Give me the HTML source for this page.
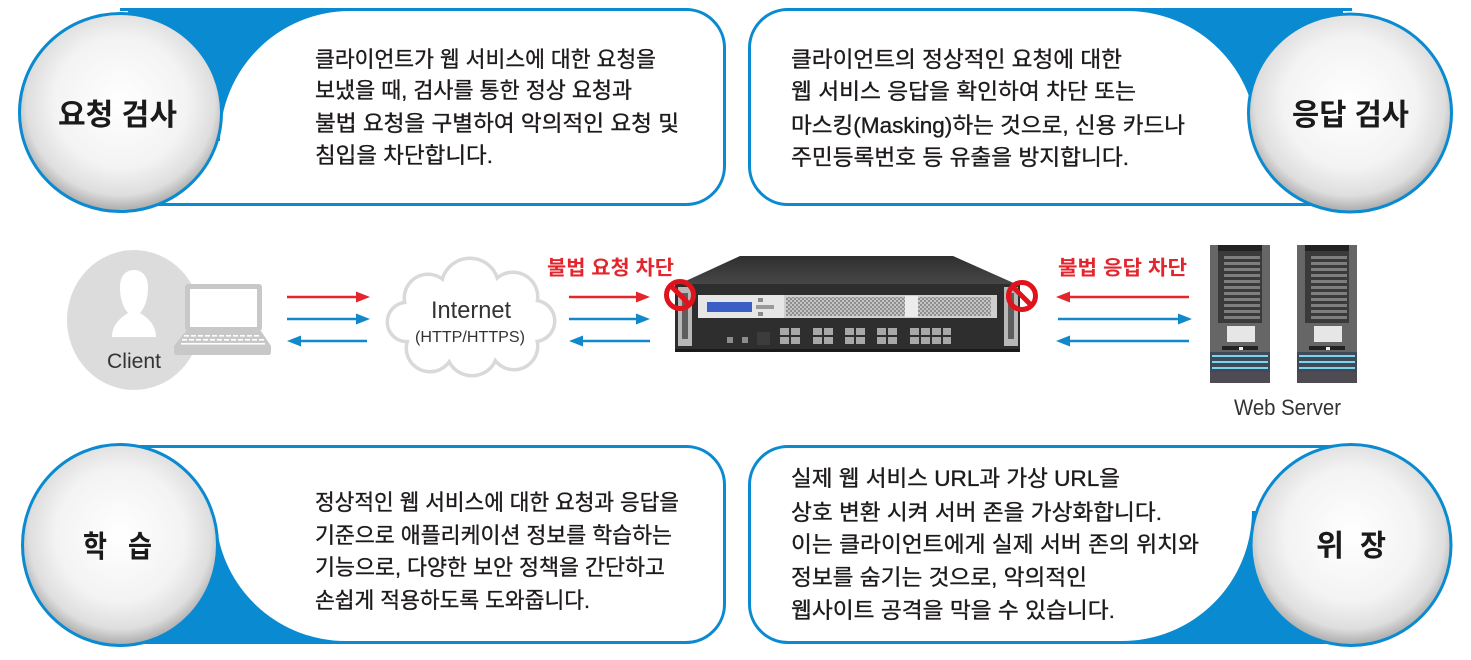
<!DOCTYPE html>
<html><head><meta charset="utf-8">
<style>
html,body{margin:0;padding:0;background:#fff;}
svg{display:block;}
.t{font-family:"Liberation Sans","Noto Sans CJK KR",sans-serif;font-size:22px;fill:#1e1b1c;stroke:#1e1b1c;stroke-width:0.35px;}
.lb{font-family:"Liberation Sans","Noto Sans CJK KR",sans-serif;font-size:30px;font-weight:bold;fill:#1a1a1a;}
.en{font-family:"Liberation Sans",sans-serif;fill:#333;}
.rd{font-family:"Liberation Sans","Noto Sans CJK KR",sans-serif;font-size:20px;font-weight:bold;fill:#e3262e;}
</style></head><body>
<svg width="1471" height="660" viewBox="0 0 1471 660" xmlns="http://www.w3.org/2000/svg">
<defs>
<radialGradient id="eg" cx="50%" cy="45%" r="55%">
 <stop offset="0" stop-color="#ffffff"/>
 <stop offset="0.6" stop-color="#f3f3f3"/>
 <stop offset="0.85" stop-color="#dedede"/>
 <stop offset="1" stop-color="#a9a9a9"/>
</radialGradient>
<linearGradient id="topg" x1="0" y1="0" x2="0" y2="1">
 <stop offset="0" stop-color="#2f2f2f"/>
 <stop offset="1" stop-color="#474747"/>
</linearGradient>
<pattern id="mesh" width="4" height="4" patternUnits="userSpaceOnUse">
 <rect width="4" height="4" fill="#c4c4c4"/>
 <rect width="2" height="2" fill="#8f8f8f"/>
 <rect x="2" y="2" width="2" height="2" fill="#8f8f8f"/>
</pattern>
</defs>

<!-- Top-left card -->
<path d="M120 9.5 H686 A38.5 38.5 0 0 1 724.5 48 V166 A38.5 38.5 0 0 1 686 204.5 H120" fill="#fff" stroke="#0a8ad0" stroke-width="3"/>
<path d="M128 8 H350 V11 A130 130 0 0 0 220 141 H128 Z" fill="#0a8ad0"/>
<ellipse cx="120.5" cy="112.5" rx="101" ry="99" fill="url(#eg)" stroke="#0a8ad0" stroke-width="3"/>
<text class="lb" x="58" y="125" textLength="119" lengthAdjust="spacingAndGlyphs">요청 검사</text>
<text class="t" x="315" y="67" textLength="341" lengthAdjust="spacingAndGlyphs">클라이언트가 웹 서비스에 대한 요청을</text>
<text class="t" x="315" y="98" textLength="317" lengthAdjust="spacingAndGlyphs">보냈을 때, 검사를 통한 정상 요청과</text>
<text class="t" x="315" y="131" textLength="364" lengthAdjust="spacingAndGlyphs">불법 요청을 구별하여 악의적인 요청 및</text>
<text class="t" x="315" y="163" textLength="178" lengthAdjust="spacingAndGlyphs">침입을 차단합니다.</text>

<!-- Top-right card -->
<path d="M1352 9.5 H788 A38.5 38.5 0 0 0 749.5 48 V166 A38.5 38.5 0 0 0 788 204.5 H1352" fill="#fff" stroke="#0a8ad0" stroke-width="3"/>
<path d="M1127 8 V11 A130 130 0 0 1 1257 141 H1343 V8 Z" fill="#0a8ad0"/>
<ellipse cx="1350" cy="113" rx="101.5" ry="99" fill="url(#eg)" stroke="#0a8ad0" stroke-width="3"/>
<text class="lb" x="1292" y="125" textLength="117" lengthAdjust="spacingAndGlyphs">응답 검사</text>
<text class="t" x="791" y="67" textLength="331" lengthAdjust="spacingAndGlyphs">클라이언트의 정상적인 요청에 대한</text>
<text class="t" x="791" y="99" textLength="345" lengthAdjust="spacingAndGlyphs">웹 서비스 응답을 확인하여 차단 또는</text>
<text class="t" x="791" y="133" textLength="394" lengthAdjust="spacingAndGlyphs">마스킹(Masking)하는 것으로, 신용 카드나</text>
<text class="t" x="791" y="165" textLength="338" lengthAdjust="spacingAndGlyphs">주민등록번호 등 유출을 방지합니다.</text>

<!-- Bottom-left card -->
<path d="M120 446.5 H686 A38.5 38.5 0 0 1 724.5 485 V604 A38.5 38.5 0 0 1 686 642.5 H120" fill="#fff" stroke="#0a8ad0" stroke-width="3"/>
<path d="M217 530 A130 130 0 0 0 345 641 V644 H120 V530 Z" fill="#0a8ad0"/>
<ellipse cx="120" cy="545" rx="97.5" ry="100.5" fill="url(#eg)" stroke="#0a8ad0" stroke-width="3"/>
<text class="lb" x="83" y="557" textLength="24" lengthAdjust="spacingAndGlyphs">학</text>
<text class="lb" x="128" y="557" textLength="24" lengthAdjust="spacingAndGlyphs">습</text>
<text class="t" x="315" y="510" textLength="364" lengthAdjust="spacingAndGlyphs">정상적인 웹 서비스에 대한 요청과 응답을</text>
<text class="t" x="315" y="543" textLength="357" lengthAdjust="spacingAndGlyphs">기준으로 애플리케이션 정보를 학습하는</text>
<text class="t" x="315" y="575" textLength="350" lengthAdjust="spacingAndGlyphs">기능으로, 다양한 보안 정책을 간단하고</text>
<text class="t" x="315" y="608" textLength="275" lengthAdjust="spacingAndGlyphs">손쉽게 적용하도록 도와줍니다.</text>

<!-- Bottom-right card -->
<path d="M1352 446.5 H788 A38.5 38.5 0 0 0 749.5 485 V604 A38.5 38.5 0 0 0 788 642.5 H1352" fill="#fff" stroke="#0a8ad0" stroke-width="3"/>
<path d="M1252 511 A130 130 0 0 1 1122 641 V644 H1352 V511 Z" fill="#0a8ad0"/>
<ellipse cx="1351" cy="545" rx="100" ry="100.5" fill="url(#eg)" stroke="#0a8ad0" stroke-width="3"/>
<text class="lb" x="1316" y="556" textLength="28" lengthAdjust="spacingAndGlyphs">위</text>
<text class="lb" x="1360" y="556" textLength="26" lengthAdjust="spacingAndGlyphs">장</text>
<text class="t" x="791" y="486" textLength="329" lengthAdjust="spacingAndGlyphs">실제 웹 서비스 URL과 가상 URL을</text>
<text class="t" x="791" y="520" textLength="371" lengthAdjust="spacingAndGlyphs">상호 변환 시켜 서버 존을 가상화합니다.</text>
<text class="t" x="791" y="552" textLength="408" lengthAdjust="spacingAndGlyphs">이는 클라이언트에게 실제 서버 존의 위치와</text>
<text class="t" x="791" y="585" textLength="296" lengthAdjust="spacingAndGlyphs">정보를 숨기는 것으로, 악의적인</text>
<text class="t" x="791" y="618" textLength="324" lengthAdjust="spacingAndGlyphs">웹사이트 공격을 막을 수 있습니다.</text>

<!-- Client -->
<ellipse cx="134" cy="320" rx="67" ry="70" fill="#dcdcdc"/>
<path d="M112 337 C112 325 120 318 128 313 C122 306 120 297 120 287 C120 276 126 270 134 270 C142 270 148 276 148 287 C148 297 146 306 140 313 C148 318 156 325 156 337 Z" fill="#fff"/>
<text class="en" x="107" y="368" font-size="21" textLength="54" lengthAdjust="spacingAndGlyphs">Client</text>
<!-- Laptop -->
<rect x="185" y="284" width="77" height="47" rx="3" fill="#c8c8c8"/>
<rect x="190" y="289" width="67" height="38" fill="#fff"/>
<path d="M186 331 H261 L271 346 V352 Q271 355 268 355 H177 Q174 355 174 352 V346 Z" fill="#c8c8c8"/>
<g fill="#fff">
 <rect x="184" y="335" width="5" height="1.6"/><rect x="191" y="335" width="5" height="1.6"/><rect x="198" y="335" width="5" height="1.6"/><rect x="205" y="335" width="5" height="1.6"/><rect x="212" y="335" width="5" height="1.6"/><rect x="219" y="335" width="5" height="1.6"/><rect x="226" y="335" width="5" height="1.6"/><rect x="233" y="335" width="5" height="1.6"/><rect x="240" y="335" width="5" height="1.6"/><rect x="247" y="335" width="5" height="1.6"/><rect x="254" y="335" width="5" height="1.6"/>
 <rect x="182" y="339" width="5" height="1.6"/><rect x="189" y="339" width="5" height="1.6"/><rect x="196" y="339" width="5" height="1.6"/><rect x="203" y="339" width="5" height="1.6"/><rect x="210" y="339" width="5" height="1.6"/><rect x="217" y="339" width="5" height="1.6"/><rect x="224" y="339" width="5" height="1.6"/><rect x="231" y="339" width="5" height="1.6"/><rect x="238" y="339" width="5" height="1.6"/><rect x="245" y="339" width="5" height="1.6"/><rect x="252" y="339" width="5" height="1.6"/><rect x="259" y="339" width="5" height="1.6"/>
 <rect x="181" y="343" width="84" height="1.6"/>
</g>

<!-- Arrows -->
<g stroke-width="2.5">
 <line x1="287" y1="297" x2="358" y2="297" stroke="#e3262e"/>
 <line x1="287" y1="319" x2="358" y2="319" stroke="#1188cc"/>
 <line x1="299" y1="341" x2="367" y2="341" stroke="#1188cc"/>
 <line x1="569" y1="297" x2="638" y2="297" stroke="#e3262e"/>
 <line x1="569" y1="319" x2="638" y2="319" stroke="#1188cc"/>
 <line x1="581" y1="341" x2="650" y2="341" stroke="#1188cc"/>
 <line x1="1068" y1="297" x2="1189" y2="297" stroke="#e3262e"/>
 <line x1="1058" y1="319" x2="1180" y2="319" stroke="#1188cc"/>
 <line x1="1068" y1="341" x2="1189" y2="341" stroke="#1188cc"/>
</g>
<polygon points="370,297 356,291.5 356,302.5" fill="#e3262e"/>
<polygon points="370,319 356,313.5 356,324.5" fill="#1188cc"/>
<polygon points="287,341 301,335.5 301,346.5" fill="#1188cc"/>
<polygon points="650,297 636,291.5 636,302.5" fill="#e3262e"/>
<polygon points="650,319 636,313.5 636,324.5" fill="#1188cc"/>
<polygon points="569,341 583,335.5 583,346.5" fill="#1188cc"/>
<polygon points="1056,297 1070,291.5 1070,302.5" fill="#e3262e"/>
<polygon points="1192,319 1178,313.5 1178,324.5" fill="#1188cc"/>
<polygon points="1056,341 1070,335.5 1070,346.5" fill="#1188cc"/>

<!-- Cloud -->
<g fill="#d9d9d9">
 <circle cx="470" cy="287" r="30.5"/><circle cx="428" cy="298" r="25.5"/><circle cx="513" cy="297" r="26.5"/>
 <circle cx="407" cy="322" r="21.5"/><circle cx="534" cy="321" r="22.5"/><circle cx="430" cy="348" r="25.5"/>
 <circle cx="472" cy="350" r="27.5"/><circle cx="514" cy="346" r="25.5"/>
</g>
<g fill="#fff">
 <circle cx="470" cy="287" r="27"/><circle cx="428" cy="298" r="22"/><circle cx="513" cy="297" r="23"/>
 <circle cx="407" cy="322" r="18"/><circle cx="534" cy="321" r="19"/><circle cx="430" cy="348" r="22"/>
 <circle cx="472" cy="350" r="24"/><circle cx="514" cy="346" r="22"/>
 <ellipse cx="471" cy="320" rx="58" ry="36"/>
</g>
<text class="en" x="431" y="318" font-size="24" textLength="80" lengthAdjust="spacingAndGlyphs">Internet</text>
<text class="en" x="415" y="342" font-size="16" textLength="110" lengthAdjust="spacingAndGlyphs">(HTTP/HTTPS)</text>

<!-- Red labels -->
<text class="rd" x="547" y="274.5" textLength="127" lengthAdjust="spacingAndGlyphs">불법 요청 차단</text>
<text class="rd" x="1058" y="274.5" textLength="129" lengthAdjust="spacingAndGlyphs">불법 응답 차단</text>

<!-- Appliance -->
<polygon points="740,256 953,256 1018,285 677,285" fill="url(#topg)"/>
<rect x="675" y="284" width="345" height="68" fill="#2e2e2e"/>
<rect x="675" y="349" width="345" height="3" fill="#1a1a1a"/>
<rect x="698" y="295" width="299" height="23" fill="#cfcfcf"/>
<rect x="698" y="295" width="86" height="23" fill="#e6e6e6"/>
<rect x="707" y="302" width="45" height="10" fill="#3a5ec6"/>
<rect x="758" y="298" width="5" height="4" fill="#8a8a8a"/>
<rect x="756" y="305" width="18" height="4" fill="#9a9a9a"/>
<rect x="758" y="312" width="5" height="4" fill="#8a8a8a"/>
<rect x="786" y="297" width="205" height="19" fill="url(#mesh)"/>
<rect x="905" y="296" width="13" height="21" fill="#ececec"/>
<rect x="678" y="287" width="14" height="59" fill="#b8b8b8"/>
<rect x="682" y="293" width="6" height="46" fill="#5e5e5e"/>
<rect x="1004" y="287" width="14" height="59" fill="#b8b8b8"/>
<rect x="1008" y="293" width="6" height="46" fill="#5e5e5e"/>
<rect x="727" y="337" width="6" height="6" fill="#8c8c8c"/>
<rect x="742" y="337" width="6" height="6" fill="#8c8c8c"/>
<rect x="757" y="332" width="13" height="13" fill="#3c3c3c"/>
<g fill="#a8a8a8">
 <rect x="780" y="328" width="9" height="7"/><rect x="791" y="328" width="9" height="7"/><rect x="780" y="337" width="9" height="7"/><rect x="791" y="337" width="9" height="7"/>
 <rect x="813" y="328" width="9" height="7"/><rect x="824" y="328" width="9" height="7"/><rect x="813" y="337" width="9" height="7"/><rect x="824" y="337" width="9" height="7"/>
 <rect x="845" y="328" width="9" height="7"/><rect x="856" y="328" width="9" height="7"/><rect x="845" y="337" width="9" height="7"/><rect x="856" y="337" width="9" height="7"/>
 <rect x="877" y="328" width="9" height="7"/><rect x="888" y="328" width="9" height="7"/><rect x="877" y="337" width="9" height="7"/><rect x="888" y="337" width="9" height="7"/>
 <rect x="910" y="328" width="9" height="7"/><rect x="921" y="328" width="9" height="7"/><rect x="932" y="328" width="9" height="7"/><rect x="943" y="328" width="8" height="7"/>
 <rect x="910" y="337" width="9" height="7"/><rect x="921" y="337" width="9" height="7"/><rect x="932" y="337" width="9" height="7"/><rect x="943" y="337" width="8" height="7"/>
</g>

<!-- No signs -->
<g stroke="#e0121c" stroke-width="5" fill="none">
 <circle cx="680" cy="295" r="13.5"/><line x1="671" y1="286" x2="689" y2="304"/>
 <circle cx="1022" cy="296" r="13.5"/><line x1="1013" y1="287" x2="1031" y2="305"/>
</g>

<!-- Servers -->
<g>
 <rect x="1210" y="245" width="60" height="138" fill="#666"/>
 <rect x="1218" y="245" width="44" height="6" fill="#222"/>
 <rect x="1218" y="251" width="44" height="72" fill="#3a3a3a"/>
 <g fill="#7e7e7e">
  <rect x="1224" y="256" width="36" height="3"/><rect x="1224" y="262" width="36" height="3"/><rect x="1224" y="268" width="36" height="3"/><rect x="1224" y="274" width="36" height="3"/><rect x="1224" y="280" width="36" height="3"/><rect x="1224" y="286" width="36" height="3"/><rect x="1224" y="292" width="36" height="3"/><rect x="1224" y="298" width="36" height="3"/><rect x="1224" y="304" width="36" height="3"/><rect x="1224" y="310" width="36" height="3"/><rect x="1224" y="316" width="36" height="3"/>
 </g>
 <rect x="1227" y="326" width="28" height="16" fill="#e6e6e6"/>
 <rect x="1222" y="346" width="36" height="4" fill="#222"/>
 <rect x="1239" y="347" width="4" height="3" fill="#eee"/>
 <rect x="1210" y="352" width="60" height="20" fill="#3e4a5a"/>
 <rect x="1212" y="355" width="56" height="2" fill="#7fd4ec"/>
 <rect x="1212" y="361" width="56" height="2" fill="#7fd4ec"/>
 <rect x="1212" y="367" width="56" height="2" fill="#7fd4ec"/>
 <rect x="1210" y="372" width="60" height="11" fill="#4f4b52"/>
</g>
<g>
 <rect x="1297" y="245" width="60" height="138" fill="#666"/>
 <rect x="1305" y="245" width="44" height="6" fill="#222"/>
 <rect x="1305" y="251" width="44" height="72" fill="#3a3a3a"/>
 <g fill="#7e7e7e">
  <rect x="1311" y="256" width="36" height="3"/><rect x="1311" y="262" width="36" height="3"/><rect x="1311" y="268" width="36" height="3"/><rect x="1311" y="274" width="36" height="3"/><rect x="1311" y="280" width="36" height="3"/><rect x="1311" y="286" width="36" height="3"/><rect x="1311" y="292" width="36" height="3"/><rect x="1311" y="298" width="36" height="3"/><rect x="1311" y="304" width="36" height="3"/><rect x="1311" y="310" width="36" height="3"/><rect x="1311" y="316" width="36" height="3"/>
 </g>
 <rect x="1314" y="326" width="28" height="16" fill="#e6e6e6"/>
 <rect x="1309" y="346" width="36" height="4" fill="#222"/>
 <rect x="1326" y="347" width="4" height="3" fill="#eee"/>
 <rect x="1297" y="352" width="60" height="20" fill="#3e4a5a"/>
 <rect x="1299" y="355" width="56" height="2" fill="#7fd4ec"/>
 <rect x="1299" y="361" width="56" height="2" fill="#7fd4ec"/>
 <rect x="1299" y="367" width="56" height="2" fill="#7fd4ec"/>
 <rect x="1297" y="372" width="60" height="11" fill="#4f4b52"/>
</g>
<text class="en" x="1234" y="415" font-size="22" textLength="107" lengthAdjust="spacingAndGlyphs">Web Server</text>
</svg>
</body></html>
